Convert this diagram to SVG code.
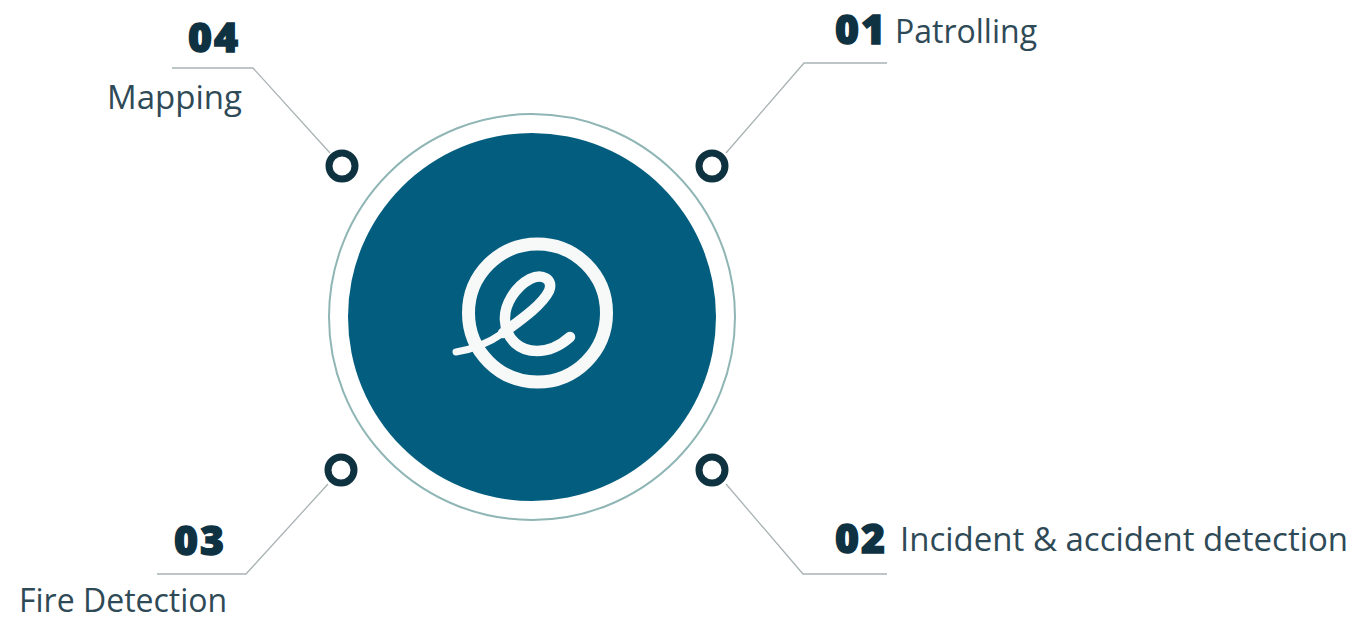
<svg xmlns="http://www.w3.org/2000/svg" width="1362" height="619" viewBox="0 0 1362 619">
<style>
.num{font-family:"Open Sans","Noto Sans",sans-serif;font-weight:800;font-size:41px;letter-spacing:2px;fill:#0f3242;stroke:#0f3242;stroke-width:1.4px}
.lbl{font-family:"Open Sans","Noto Sans",sans-serif;font-size:32px;fill:#2f4a57}
.dot{fill:#fff;stroke:#0f3240;stroke-width:7}
.con{fill:none;stroke:#a9b2b4;stroke-width:1.3}
</style>
<rect width="1362" height="619" fill="#fff"/>
<g id="connectors">
<path class="con" d="M726 153L804 63H887"/>
<path class="con" d="M330 153L253 68H172"/>
<path class="con" d="M328 484L246 574H157"/>
<path class="con" d="M726 484L803 574H887"/>
</g>
<g id="hub">
<circle cx="532" cy="317" r="203" fill="#fff" stroke="#8fb5b5" stroke-width="2"/>
<circle cx="532" cy="317" r="184" fill="#035d7f"/>
<g fill="none" stroke="#f7f9f9" stroke-linecap="round">
<circle cx="537.500" cy="313" r="69" stroke-width="13"/>
<path stroke-width="7" d="M456 352C475 349 490 342 503 333"/>
<path stroke-width="10.500" d="M503 333C522 319 542 305 549 291C554 279 542 273 530 279C515 287 504 305 505 320C506 340 520 351 537 351C550 351 561 345 570 337"/>
</g>
</g>
<g id="node-01">
<circle class="dot" cx="712" cy="166" r="13"/>
<text class="num" x="835" y="44">01</text>
<text class="lbl" x="895" y="43">Patrolling</text>
</g>
<g id="node-02">
<circle class="dot" cx="712" cy="470" r="13"/>
<text class="num" x="835" y="553">02</text>
<text class="lbl" x="900" y="551" style="font-size:33px">Incident &amp; accident detection</text>
</g>
<g id="node-03">
<circle class="dot" cx="341" cy="470" r="13"/>
<text class="num" x="174" y="555">03</text>
<text class="lbl" x="19" y="612">Fire Detection</text>
</g>
<g id="node-04">
<circle class="dot" cx="342" cy="166" r="13"/>
<text class="num" x="188" y="52">04</text>
<text class="lbl" x="107" y="109" style="font-size:33px">Mapping</text>
</g>
</svg>
